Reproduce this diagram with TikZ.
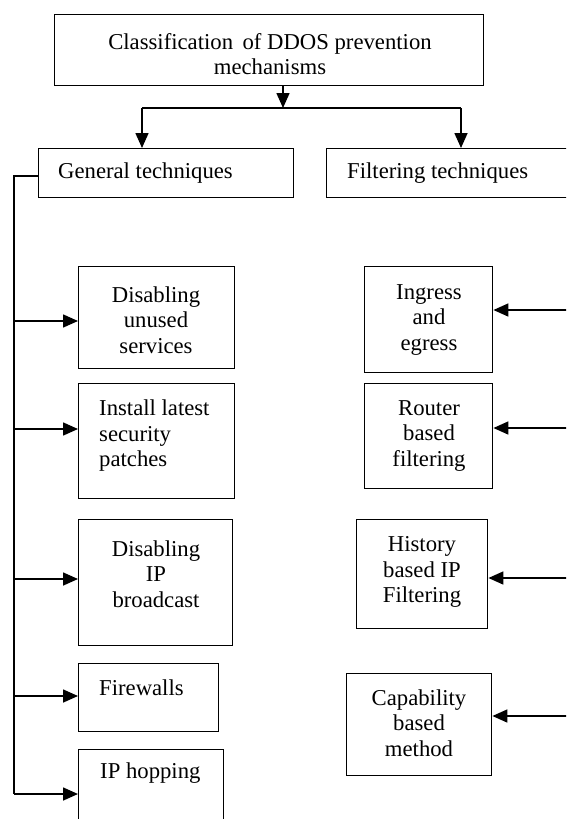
\documentclass[tikz,border=0pt]{standalone}
\usepackage{fontspec}
\setmainfont{Liberation Serif}
\usetikzlibrary{arrows.meta}
\begin{document}
\begin{tikzpicture}[x=1pt,y=-1pt,
  box/.style={draw, line width=1.4pt, inner sep=0pt, anchor=north west},
  txt/.style={font=\fontsize{22.7}{25.5}\selectfont, inner sep=0pt, align=center},
  ltxt/.style={font=\fontsize{22.7}{25.5}\selectfont, inner sep=0pt, align=left, anchor=west},
  ln/.style={line width=1.6pt},
  arr/.style={line width=1.6pt, -{Triangle[length=15pt,width=13pt]}}]
\fill[white] (0,0) rectangle (566,819);
\useasboundingbox (0,0) rectangle (566,819);
\clip (0,0) rectangle (566,819);
% boxes
\node[box, minimum width=429pt, minimum height=71pt] (top) at (54,14) {};
\node[txt] (ttop) at (270,54) {Classification\, of DDOS prevention\\mechanisms};
\node[box, minimum width=255pt, minimum height=49pt] (gen) at (38,148) {};
\node[ltxt] (tgen) at (58,173) {General techniques};
\node[box, minimum width=274pt, minimum height=49pt] (filt) at (326,148) {};
\node[ltxt] (tfilt) at (347,173) {Filtering techniques};
% left column
\node[box, minimum width=156pt, minimum height=102pt] (b1) at (78,266) {};
\node[txt] (tb1) at (156,320) {Disabling\\unused\\services};
\node[box, minimum width=156pt, minimum height=115pt] (b2) at (78,383) {};
\node[ltxt] (tb2) at (99,436) {Install latest\\security\\patches};
\node[box, minimum width=154pt, minimum height=126pt] (b3) at (78,519) {};
\node[txt] (tb3) at (156,574) {Disabling\\IP\\broadcast};
\node[box, minimum width=140pt, minimum height=68pt] (b4) at (78,663) {};
\node[ltxt] (tb4) at (99,688) {Firewalls};
\node[box, minimum width=145pt, minimum height=91pt] (b5) at (78,749) {};
\node[ltxt] (tb5) at (100,773) {IP hopping};
% right column
\node[box, minimum width=128pt, minimum height=106pt] (r1) at (364,266) {};
\node[txt] (tr1) at (429,320) {Ingress\\and\\egress};
\node[box, minimum width=128pt, minimum height=105pt] (r2) at (364,383) {};
\node[txt] (tr2) at (429,436) {Router\\based\\filtering};
\node[box, minimum width=131pt, minimum height=109pt] (r3) at (356,519) {};
\node[txt] (tr3) at (422,572) {History\\based IP\\Filtering};
\node[box, minimum width=145pt, minimum height=102pt] (r4) at (346,673) {};
\node[txt] (tr4) at (419,723) {Capability\\based\\method};
% top connectors
\coordinate (j) at (283,108);
\coordinate (jl) at (142,108);
\coordinate (jr) at (461,108);
\draw[arr] (top.south -| j) -- (j);
\draw[ln] (jl) -- (jr);
\draw[arr] (jl) -- (gen.north -| jl);
\draw[arr] (jr) -- (filt.north -| jr);
% left bus
\coordinate (bt) at (14,176);
\coordinate (bb) at (14,794);
\draw[ln] (gen.west |- bt) -- (bt) -- (bb);
\draw[arr] (bt |- 0,321) -- (b1.west |- 0,321);
\draw[arr] (bt |- 0,429) -- (b2.west |- 0,429);
\draw[arr] (bt |- 0,579) -- (b3.west |- 0,579);
\draw[arr] (bt |- 0,696) -- (b4.west |- 0,696);
\draw[arr] (bb) -- (b5.west |- bb);
% right feeds
\coordinate (re) at (570,0);
\draw[arr] (re |- 0,310) -- (r1.east |- 0,310);
\draw[arr] (re |- 0,428) -- (r2.east |- 0,428);
\draw[arr] (re |- 0,578) -- (r3.east |- 0,578);
\draw[arr] (re |- 0,716) -- (r4.east |- 0,716);
\end{tikzpicture}
\end{document}
